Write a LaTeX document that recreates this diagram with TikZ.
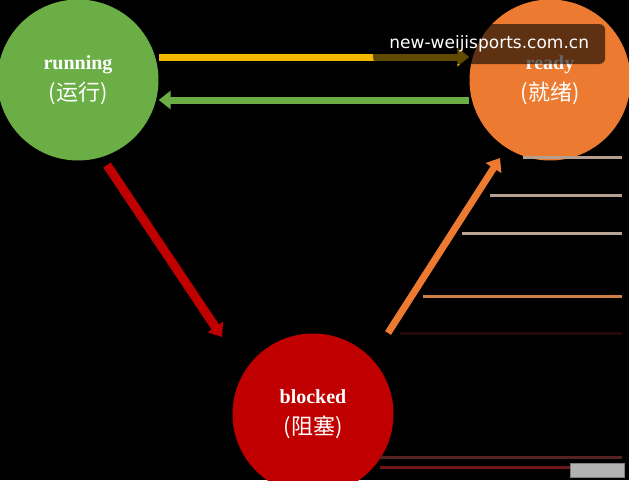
\documentclass[tikz,border=0pt]{standalone}
\usepackage{fontspec}
\setmainfont{Liberation Serif}
\newfontfamily\cjk{Noto Sans CJK SC}
\newfontfamily\wmfont{DejaVu Sans}
\usetikzlibrary{arrows.meta}
\usetikzlibrary{positioning}
\definecolor{runGreen}{HTML}{6AAE45}
\definecolor{readyOrange}{HTML}{EC7B31}
\definecolor{blockRed}{HTML}{C00000}
\definecolor{lineYellow}{HTML}{F5B800}
\tikzset{
  state/.style={circle, minimum size=161pt, inner sep=0pt, align=center,
    text=white, font=\fontsize{20}{31}\selectfont\bfseries},
  trans/.style={line width=7pt, -{Triangle[length=12pt,width=18pt]}},
  stripe/.style={line width=3pt},
}
\begin{document}
\begin{tikzpicture}[x=1pt,y=-1pt]
\useasboundingbox (0,0) rectangle (629,480);
\fill[black] (0,0) rectangle (629,480);

% states
\node[state, fill=runGreen] (running) at (78,80) {running\\{\cjk\mdseries\fontsize{22}{31}\selectfont (运行)}};
\node[state, fill=readyOrange] (ready) at (550,80) {ready\\{\cjk\mdseries\fontsize{22}{31}\selectfont (就绪)}};
\node[state, fill=blockRed] (blocked) at (313,414) {blocked\\{\cjk\mdseries\fontsize{22}{31}\selectfont (阻塞)}};

% transitions
\coordinate (runOut) at (107,165);
\coordinate (blockIn) at (222,337);
\coordinate (blockOut) at (388,333);
\coordinate (readyIn) at (500,158);
\draw[trans, lineYellow] (running.east |- 0,57) -- (ready.west |- 0,57);
\draw[trans, runGreen] (ready.west |- 0,100) -- (running.east |- 0,100);
\draw[trans, blockRed, line width=9pt] (runOut) -- (blockIn);
\draw[trans, readyOrange] (blockOut) -- (readyIn);

% stripes on the right
\coordinate (r1) at (622,157);
\coordinate (r2) at (622,195);
\coordinate (r3) at (622,233);
\coordinate (r4) at (622,296);
\coordinate (r5) at (622,333);
\coordinate (r6) at (622,457);
\coordinate (r7) at (622,467);
\draw[stripe, color={rgb,255:red,180;green,160;blue,145}] (r1) -- ++(-99,0);
\draw[stripe, color={rgb,255:red,180;green,160;blue,145}] (r2) -- ++(-132,0);
\draw[stripe, color={rgb,255:red,185;green,165;blue,150}] (r3) -- ++(-160,0);
\draw[stripe, color={rgb,255:red,205;green,125;blue,70}] (r4) -- ++(-199,0);
\draw[stripe, color={rgb,255:red,35;green,8;blue,8}] (r5) -- ++(-222,0);
\draw[stripe, color={rgb,255:red,85;green,35;blue,35}] (r6) -- ++(-242,0);
\draw[stripe, color={rgb,255:red,110;green,25;blue,25}] (r7) -- ++(-242,0);

% watermark
\node[fill=black, fill opacity=0.6, text opacity=1, rounded corners=6pt,
  text=white, font=\wmfont\fontsize{17}{19}\selectfont, minimum width=232pt,
  minimum height=40pt, anchor=west] (mark) at (373,44) {new-weijisports.com.cn};
\node[fill=gray!60, draw=gray, inner sep=1pt,
  minimum width=54pt, minimum height=14pt] (logo) at (597,470) {};
\end{tikzpicture}
\end{document}
